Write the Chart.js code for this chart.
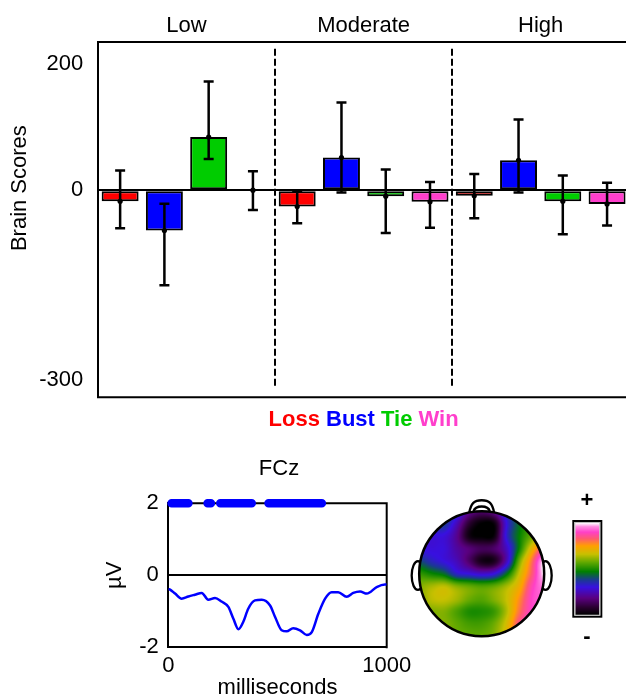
<!DOCTYPE html>
<html><head><meta charset="utf-8">
<script src="https://cdn.jsdelivr.net/npm/chart.js@4/dist/chart.umd.min.js"></script>
<style>
html,body{margin:0;padding:0;background:#fff;overflow:hidden;width:626px;height:696px;position:relative}
canvas{position:absolute;display:block}
#c1{left:0;top:0}
#c2{left:100px;top:450px}
#c3{left:400px;top:480px}
</style></head><body>
<canvas id="c1" width="640" height="440"></canvas>
<canvas id="c2" width="340" height="260"></canvas>
<canvas id="c3" width="226" height="216"></canvas>
<script>
// ---------- DATA ----------
const groups = ['Low', 'Moderate', 'High'];
const conditions = ['Loss', 'Bust', 'Tie', 'Win'];
const lossScores = [-17.7, -26, -9];
const bustScores = [-64, 51.6, 47.3];
const tieScores  = [84, -9.5, -17.6];
const winScores  = [0, -18.5, -21.9];
const lossErrLow = [-60.5, -52.4, -44.5];
const lossErrHigh = [31, -1, 25.7];
const bustErrLow = [-150.7, -3.6, -3.6];
const bustErrHigh = [-21.4, 138.9, 111.7];
const tieErrLow = [49.4, -68, -69.8];
const tieErrHigh = [172, 32.6, 23];
const winErrLow = [-31.5, -59.4, -56];
const winErrHigh = [29.8, 12.7, 11.6];
const brainTicks = [200, 0, -300];

const erpTimes = [0, 8, 31, 61, 92, 122, 153, 183, 214, 244, 275, 298, 321, 343, 366, 397, 428, 466, 489, 519, 542, 572, 603, 634, 657, 687, 718, 748, 778, 817, 847, 878, 909, 954, 992, 1000];
const erpValues = [-0.38, -0.40, -0.51, -0.65, -0.59, -0.54, -0.49, -0.68, -0.63, -0.73, -0.88, -1.21, -1.5, -1.30, -0.93, -0.70, -0.68, -0.84, -1.16, -1.53, -1.56, -1.47, -1.53, -1.66, -1.58, -1.07, -0.65, -0.47, -0.47, -0.60, -0.49, -0.45, -0.51, -0.33, -0.26, -0.26];
const sigStart = [15, 180, 238, 459];
const sigEnd   = [92, 195, 382, 703];
const msTicks = [0, 1000];
const uvTicks = [2, 0, -2];

// scalp map values (colormap position 0..1), rows y=+1..-1, cols x=-1..+1
const scalpGrid = [
  [0.42, 0.42, 0.40, 0.35, 0.20, 0.15, 0.20, 0.35, 0.45, 0.50, 0.55],
  [0.36, 0.36, 0.38, 0.25, 0.08, 0.00, 0.02, 0.30, 0.45, 0.55, 0.60],
  [0.31, 0.29, 0.29, 0.20, 0.03, 0.00, 0.02, 0.32, 0.47, 0.58, 0.70],
  [0.30, 0.29, 0.29, 0.22, 0.17, 0.13, 0.15, 0.26, 0.48, 0.70, 0.85],
  [0.40, 0.34, 0.30, 0.25, 0.15, 0.04, 0.05, 0.25, 0.58, 0.80, 1.00],
  [0.52, 0.48, 0.44, 0.33, 0.30, 0.27, 0.30, 0.45, 0.66, 0.83, 1.00],
  [0.60, 0.63, 0.65, 0.60, 0.57, 0.55, 0.57, 0.63, 0.72, 0.88, 0.95],
  [0.60, 0.65, 0.66, 0.63, 0.58, 0.56, 0.60, 0.66, 0.77, 0.90, 0.92],
  [0.60, 0.60, 0.60, 0.55, 0.50, 0.50, 0.53, 0.64, 0.80, 0.90, 0.90],
  [0.60, 0.60, 0.60, 0.57, 0.54, 0.54, 0.58, 0.68, 0.85, 0.90, 0.90],
  [0.60, 0.60, 0.60, 0.58, 0.57, 0.57, 0.60, 0.70, 0.85, 0.90, 0.90]
];

// ---------- STYLE ----------
const F = "'Liberation Sans', Arial, sans-serif";
Chart.defaults.font.family = F;
Chart.defaults.color = '#000';
const condColors = ['#ff0000', '#0000ff', '#00cc00', '#ff3fcc'];
const scores = [lossScores, bustScores, tieScores, winScores];
const errLows = [lossErrLow, bustErrLow, tieErrLow, winErrLow];
const errHighs = [lossErrHigh, bustErrHigh, tieErrHigh, winErrHigh];

// ---------- TOP BAR CHART ----------
const barDeco = {
  id: 'barDeco',
  afterDatasetsDraw(chart) {
    const {ctx, chartArea: a, scales: {x, y}} = chart;
    ctx.save();
    ctx.strokeStyle = '#000';
    ctx.lineWidth = 2;
    ctx.beginPath(); ctx.moveTo(a.left - 1, a.bottom); ctx.lineTo(a.right, a.bottom); ctx.stroke();
    ctx.setLineDash([7, 3]);
    for (let g = 1; g < groups.length; g++) {
      const px = Math.round((x.getPixelForValue(g - 1) + x.getPixelForValue(g)) / 2);
      ctx.beginPath(); ctx.moveTo(px, a.top + 7); ctx.lineTo(px, a.bottom - 10); ctx.stroke();
    }
    ctx.setLineDash([]);
    chart.data.datasets.forEach((ds, i) => {
      const meta = chart.getDatasetMeta(i);
      meta.data.forEach((bar, j) => {
        const yl = y.getPixelForValue(ds.errLow[j]);
        const yh = y.getPixelForValue(ds.errHigh[j]);
        ctx.lineWidth = 2.5;
        ctx.beginPath();
        ctx.moveTo(bar.x, yl); ctx.lineTo(bar.x, yh);
        ctx.moveTo(bar.x - 5, yl); ctx.lineTo(bar.x + 5, yl);
        ctx.moveTo(bar.x - 5, yh); ctx.lineTo(bar.x + 5, yh);
        ctx.stroke();
        ctx.beginPath(); ctx.arc(bar.x, bar.y, 2.6, 0, 2 * Math.PI);
        ctx.fillStyle = '#000'; ctx.fill();
      });
    });
    // y-axis title
    ctx.save();
    ctx.translate(20, y.getPixelForValue(0) - 2);
    ctx.rotate(-Math.PI / 2);
    ctx.font = '22px ' + F; ctx.fillStyle = '#000';
    ctx.textAlign = 'center'; ctx.textBaseline = 'middle';
    ctx.fillText('Brain Scores', 0, 0);
    ctx.restore();
    // legend of colored words
    ctx.font = 'bold 22px ' + F;
    ctx.textBaseline = 'middle'; ctx.textAlign = 'left';
    const sp = ctx.measureText(' ').width;
    const widths = conditions.map(c => ctx.measureText(c).width);
    const total = widths.reduce((s, w) => s + w, 0) + sp * (conditions.length - 1);
    let lx = (a.left + a.right) / 2 - total / 2;
    conditions.forEach((c, i) => {
      ctx.fillStyle = condColors[i];
      ctx.fillText(c, lx, a.bottom + 23);
      lx += widths[i] + sp;
    });
    ctx.restore();
  }
};

new Chart(document.getElementById('c1'), {
  type: 'bar',
  data: {
    labels: groups,
    datasets: conditions.map((c, i) => ({
      label: c,
      data: scores[i],
      errLow: errLows[i],
      errHigh: errHighs[i],
      backgroundColor: condColors[i],
      borderColor: '#000',
      borderWidth: 2,
      borderSkipped: false,
      categoryPercentage: 1,
      barPercentage: 0.835
    }))
  },
  options: {
    responsive: false, animation: false,
    layout: {padding: {left: 0, right: 10.8, top: 0, bottom: 42.7}},
    plugins: {legend: {display: false}, tooltip: {enabled: false}},
    scales: {
      x: {
        position: 'top',
        grid: {display: false, drawTicks: false},
        border: {display: true, color: '#000', width: 2},
        ticks: {font: {size: 22}, color: '#000', padding: 3, maxRotation: 0},
        afterFit: s => { s.height = 41.7; }
      },
      y: {
        min: -328, max: 235,
        afterBuildTicks: s => { s.ticks = brainTicks.map(v => ({value: v})); },
        grid: {display: true, drawTicks: false, lineWidth: 2,
               color: c => (c.tick && c.tick.value === 0) ? '#000' : 'rgba(0,0,0,0)'},
        border: {display: true, color: '#000', width: 2},
        ticks: {font: {size: 22}, color: '#000', padding: 14.7, callback: v => String(v)},
        afterFit: s => { s.width = 98; }
      }
    }
  },
  plugins: [barDeco]
});

// ---------- ERP LINE CHART ----------
const sigData = [];
sigStart.forEach((s, i) => {
  sigData.push({x: s, y: 2}, {x: sigEnd[i], y: 2}, {x: sigEnd[i] + 1, y: null});
});

const lineDeco = {
  id: 'lineDeco',
  beforeDatasetsDraw(chart) {
    const {ctx, chartArea: a} = chart;
    ctx.save();
    ctx.strokeStyle = '#000'; ctx.lineWidth = 2;
    ctx.beginPath(); ctx.moveTo(a.left - 1, a.top); ctx.lineTo(a.right, a.top); ctx.lineTo(a.right, a.bottom + 1); ctx.stroke();
    ctx.font = '22px ' + F; ctx.fillStyle = '#000';
    ctx.textAlign = 'center'; ctx.textBaseline = 'middle';
    ctx.fillText('FCz', (a.left + a.right) / 2 + 1.5, a.top - 34.3);
    ctx.restore();
  }
};

new Chart(document.getElementById('c2'), {
  type: 'line',
  data: {
    datasets: [
      {data: erpTimes.map((t, i) => ({x: t, y: erpValues[i]})), borderColor: '#0000ff', borderWidth: 2.5,
       pointRadius: 0, cubicInterpolationMode: 'monotone', fill: false},
      {data: sigData, borderColor: '#0000ff', borderWidth: 8.5, borderCapStyle: 'round',
       pointRadius: 0, spanGaps: false, clip: false, fill: false}
    ]
  },
  options: {
    responsive: false, animation: false,
    layout: {padding: {left: 0, right: 53.3, top: 53.3, bottom: 0}},
    plugins: {legend: {display: false}, tooltip: {enabled: false}},
    scales: {
      x: {
        type: 'linear', min: 0, max: 1000,
        afterBuildTicks: s => { s.ticks = msTicks.map(v => ({value: v})); },
        grid: {display: false, drawTicks: false},
        border: {display: true, color: '#000', width: 2},
        ticks: {font: {size: 22}, color: '#000', padding: 6, maxRotation: 0, autoSkip: false, callback: v => String(v)},
        title: {display: true, text: 'milliseconds', font: {size: 22}, color: '#000', padding: {top: 0, bottom: 8.8}},
        afterFit: s => { s.height = 62.8; }
      },
      y: {
        min: -2, max: 2,
        afterBuildTicks: s => { s.ticks = uvTicks.map(v => ({value: v})); },
        grid: {display: true, drawTicks: false, lineWidth: 2,
               color: c => (c.tick && c.tick.value === 0) ? '#000' : 'rgba(0,0,0,0)'},
        border: {display: true, color: '#000', width: 2},
        ticks: {font: {size: 22}, color: '#000', padding: 9.6, callback: v => String(v)},
        title: {display: true, text: 'µV', font: {size: 22}, color: '#000', padding: {top: 1.8, bottom: 0}},
        afterFit: s => { s.width = 68.3; }
      }
    }
  },
  plugins: [lineDeco]
});

// ---------- SCALP MAP ----------
const cmapStops = [
  [0.00, [0, 0, 0]], [0.08, [42, 0, 48]], [0.18, [90, 0, 128]], [0.30, [56, 16, 224]],
  [0.38, [26, 58, 144]], [0.47, [0, 128, 0]], [0.57, [96, 168, 0]], [0.66, [200, 192, 0]],
  [0.75, [255, 160, 0]], [0.83, [255, 90, 112]], [0.90, [255, 64, 200]], [0.96, [255, 140, 225]],
  [1.00, [255, 255, 255]]
];
function cmap(t) {
  t = Math.max(0, Math.min(1, t));
  for (let i = 1; i < cmapStops.length; i++) {
    if (t <= cmapStops[i][0]) {
      const [t0, c0] = cmapStops[i - 1], [t1, c1] = cmapStops[i];
      const f = (t - t0) / (t1 - t0);
      return [0, 1, 2].map(k => Math.round(c0[k] + (c1[k] - c0[k]) * f));
    }
  }
  return cmapStops[cmapStops.length - 1][1];
}
function cr(p0, p1, p2, p3, t) {
  return 0.5 * (2 * p1 + (-p0 + p2) * t + (2 * p0 - 5 * p1 + 4 * p2 - p3) * t * t + (-p0 + 3 * p1 - 3 * p2 + p3) * t * t * t);
}
function sampleGrid(hx, hy) {
  const n = scalpGrid.length - 1;
  const gx = (hx + 1) / 2 * n, gy = (1 - hy) / 2 * n;
  const cl = v => Math.max(0, Math.min(n, v));
  const ix = Math.floor(Math.max(0, Math.min(n - 1e-9, gx))), iy = Math.floor(Math.max(0, Math.min(n - 1e-9, gy)));
  const fx = Math.max(0, Math.min(1, gx - ix)), fy = Math.max(0, Math.min(1, gy - iy));
  const rowsV = [];
  for (let r = -1; r <= 2; r++) {
    const row = scalpGrid[cl(iy + r)];
    rowsV.push(cr(row[cl(ix - 1)], row[cl(ix)], row[cl(ix + 1)], row[cl(ix + 2)], fx));
  }
  return cr(rowsV[0], rowsV[1], rowsV[2], rowsV[3], fy);
}

const topoDeco = {
  id: 'topoDeco',
  afterDraw(chart) {
    const {ctx, scales: {x, y}} = chart;
    const X = v => x.getPixelForValue(v), Y = v => y.getPixelForValue(v);
    const cx = X(0), cy = Y(0), R = X(1) - X(0);
    ctx.save();
    ctx.strokeStyle = '#000'; ctx.fillStyle = '#fff'; ctx.lineWidth = 2.3;
    // ears
    [-1, 1].forEach(sgn => {
      ctx.beginPath();
      ctx.ellipse(X(sgn * 1.02), Y(-0.03), (X(0.1) - X(0)), (Y(0) - Y(0.23)), 0, 0, 2 * Math.PI);
      ctx.fill(); ctx.stroke();
    });
    // nose
    ctx.beginPath();
    ctx.moveTo(X(-0.2), Y(0.975));
    ctx.bezierCurveTo(X(-0.17), Y(1.13), X(-0.12), Y(1.175), X(0), Y(1.175));
    ctx.bezierCurveTo(X(0.12), Y(1.175), X(0.17), Y(1.13), X(0.2), Y(0.975));
    ctx.closePath(); ctx.fill(); ctx.stroke();
    ctx.beginPath();
    ctx.moveTo(X(-0.13), Y(1.0));
    ctx.bezierCurveTo(X(-0.1), Y(1.1), X(0.1), Y(1.1), X(0.13), Y(1.0));
    ctx.stroke();
    // colored map
    const left = Math.floor(X(-1)) - 1, right = Math.ceil(X(1)) + 1;
    const top = Math.floor(Y(1)) - 1, bottom = Math.ceil(Y(-1)) + 1;
    const w = right - left, h = bottom - top;
    const off = document.createElement('canvas'); off.width = w; off.height = h;
    const octx = off.getContext('2d');
    const img = octx.createImageData(w, h);
    for (let py = 0; py < h; py++) {
      const hy = y.getValueForPixel(top + py + 0.5);
      for (let px = 0; px < w; px++) {
        const hx = x.getValueForPixel(left + px + 0.5);
        const c = cmap(sampleGrid(hx, hy));
        const k = (py * w + px) * 4;
        img.data[k] = c[0]; img.data[k + 1] = c[1]; img.data[k + 2] = c[2]; img.data[k + 3] = 255;
      }
    }
    octx.putImageData(img, 0, 0);
    ctx.save();
    ctx.beginPath(); ctx.arc(cx, cy, R, 0, 2 * Math.PI); ctx.clip();
    ctx.drawImage(off, left, top);
    ctx.restore();
    ctx.beginPath(); ctx.arc(cx, cy, R, 0, 2 * Math.PI); ctx.lineWidth = 2.5; ctx.stroke();
    // colorbar
    const bx0 = X(1.45), bx1 = X(1.93), by0 = Y(0.859), by1 = Y(-0.704);
    const ix0 = bx0 + 3, ix1 = bx1 - 3, iy0 = by0 + 3, iy1 = by1 - 3;
    for (let py = Math.floor(iy0); py < Math.ceil(iy1); py++) {
      const t = (iy1 - (py + 0.5)) / (iy1 - iy0);
      const c = cmap(t);
      ctx.fillStyle = 'rgb(' + c.join(',') + ')';
      ctx.fillRect(ix0, py, ix1 - ix0, 1);
    }
    ctx.strokeStyle = '#000'; ctx.lineWidth = 2;
    ctx.strokeRect(bx0 + 1, by0 + 1, bx1 - bx0 - 2, by1 - by0 - 2);
    ctx.strokeStyle = '#bbb'; ctx.lineWidth = 1;
    ctx.strokeRect(bx0 + 2.5, by0 + 2.5, bx1 - bx0 - 5, by1 - by0 - 5);
    ctx.fillStyle = '#000'; ctx.font = 'bold 22px ' + F;
    ctx.textAlign = 'center'; ctx.textBaseline = 'middle';
    ctx.fillText('+', X(1.685), Y(1.168));
    ctx.fillText('-', X(1.685), Y(-1.008));
    ctx.restore();
  }
};

new Chart(document.getElementById('c3'), {
  type: 'scatter',
  data: {datasets: [{data: []}]},
  options: {
    responsive: false, animation: false,
    layout: {padding: 0},
    plugins: {legend: {display: false}, tooltip: {enabled: false}},
    scales: {
      x: {type: 'linear', min: -1.307, max: 2.309, display: false},
      y: {type: 'linear', min: -1.957, max: 1.499, display: false}
    }
  },
  plugins: [topoDeco]
});
</script>
</body></html>
